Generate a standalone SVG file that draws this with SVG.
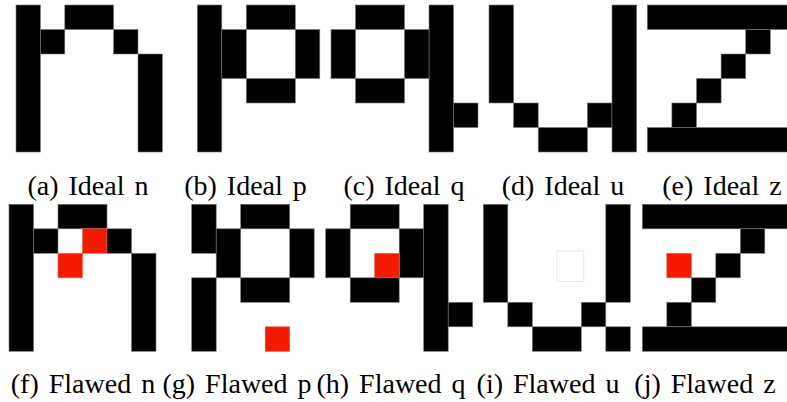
<svg xmlns="http://www.w3.org/2000/svg" width="787" height="402" viewBox="0 0 787 402">
<style>
.k{fill:#000;stroke:#777;stroke-width:0.025}
.r{fill:#f21a00;stroke:#f06040;stroke-width:0.025}
.f{fill:none;stroke:#e8e8e8;stroke-width:0.04}
.lb{font-family:"Liberation Serif","Times New Roman",serif;font-size:28px;word-spacing:3px;fill:#000;text-anchor:middle}
</style>
<rect width="787" height="402" fill="#fff"/>
<g id="ideal-n">
<g transform="translate(16,5) scale(24.4,24.5)">
<rect class="k" x="0" y="0" width="1" height="6"/><rect class="k" x="2" y="0" width="2" height="1"/><rect class="k" x="1" y="1" width="1" height="1"/><rect class="k" x="4" y="1" width="1" height="1"/><rect class="k" x="5" y="2" width="1" height="4"/>
</g>
<text class="lb" x="88" y="195">(a) Ideal n</text>
</g>
<g id="ideal-p">
<g transform="translate(197.3,5) scale(24.5)">
<rect class="k" x="0" y="0" width="1" height="6"/><rect class="k" x="2" y="0" width="2" height="1"/><rect class="k" x="1" y="1" width="1" height="2"/><rect class="k" x="4" y="1" width="1" height="2"/><rect class="k" x="2" y="3" width="2" height="1"/>
</g>
<text class="lb" x="245.5" y="195">(b) Ideal p</text>
</g>
<g id="ideal-q">
<g transform="translate(331,5) scale(24.5)">
<rect class="k" x="1" y="0" width="2" height="1"/><rect class="k" x="4" y="0" width="1" height="6"/><rect class="k" x="0" y="1" width="1" height="2"/><rect class="k" x="3" y="1" width="1" height="2"/><rect class="k" x="1" y="3" width="2" height="1"/><rect class="k" x="5" y="4" width="1" height="1"/>
</g>
<text class="lb" x="404" y="195">(c) Ideal q</text>
</g>
<g id="ideal-u">
<g transform="translate(489,5) scale(24.6,24.5)">
<rect class="k" x="0" y="0" width="1" height="4"/><rect class="k" x="1" y="4" width="1" height="1"/><rect class="k" x="2" y="5" width="2" height="1"/><rect class="k" x="4" y="4" width="1" height="1"/><rect class="k" x="5" y="0" width="1" height="6"/>
</g>
<text class="lb" x="563" y="195">(d) Ideal u</text>
</g>
<g id="ideal-z">
<g transform="translate(647.3,5) scale(24.6,24.5)">
<rect class="k" x="0" y="0" width="6" height="1"/><rect class="k" x="4" y="1" width="1" height="1"/><rect class="k" x="3" y="2" width="1" height="1"/><rect class="k" x="2" y="3" width="1" height="1"/><rect class="k" x="1" y="4" width="1" height="1"/><rect class="k" x="0" y="5" width="6" height="1"/>
</g>
<text class="lb" x="722" y="195">(e) Ideal z</text>
</g>
<g id="flawed-n">
<g transform="translate(9,204.3) scale(24.5)">
<rect class="k" x="0" y="0" width="1" height="6"/><rect class="k" x="2" y="0" width="2" height="1"/><rect class="k" x="1" y="1" width="1" height="1"/><rect class="r" x="3" y="1" width="1" height="1"/><rect class="k" x="4" y="1" width="1" height="1"/><rect class="r" x="2" y="2" width="1" height="1"/><rect class="k" x="5" y="2" width="1" height="4"/>
</g>
<text class="lb" x="83" y="393">(f) Flawed n</text>
</g>
<g id="flawed-p">
<g transform="translate(191.7,204.3) scale(24.5)">
<rect class="k" x="0" y="0" width="1" height="2"/><rect class="k" x="0" y="3" width="1" height="3"/><rect class="k" x="2" y="0" width="2" height="1"/><rect class="k" x="1" y="1" width="1" height="2"/><rect class="k" x="4" y="1" width="1" height="2"/><rect class="k" x="2" y="3" width="2" height="1"/><rect class="r" x="3" y="5" width="1" height="1"/>
</g>
<text class="lb" x="237" y="393">(g) Flawed p</text>
</g>
<g id="flawed-q">
<g transform="translate(325.7,204.3) scale(24.5)">
<rect class="k" x="1" y="0" width="2" height="1"/><rect class="k" x="4" y="0" width="1" height="6"/><rect class="k" x="0" y="1" width="1" height="2"/><rect class="k" x="3" y="1" width="1" height="2"/><rect class="r" x="2" y="2" width="1" height="1"/><rect class="k" x="1" y="3" width="2" height="1"/><rect class="k" x="5" y="4" width="1" height="1"/>
</g>
<text class="lb" x="391" y="393">(h) Flawed q</text>
</g>
<g id="flawed-u">
<g transform="translate(483.3,204.3) scale(24.5)">
<rect class="k" x="0" y="0" width="1" height="4"/><rect class="k" x="1" y="4" width="1" height="1"/><rect class="k" x="2" y="5" width="2" height="1"/><rect class="k" x="4" y="4" width="1" height="1"/><rect class="k" x="5" y="0" width="1" height="4"/><rect class="k" x="5" y="5" width="1" height="1"/><rect class="f" x="3" y="1.9" width="1.1" height="1.25"/>
</g>
<text class="lb" x="548" y="393">(i) Flawed u</text>
</g>
<g id="flawed-z">
<g transform="translate(642.3,204.3) scale(24.5)">
<rect class="k" x="0" y="0" width="6" height="1"/><rect class="k" x="4" y="1" width="1" height="1"/><rect class="k" x="3" y="2" width="1" height="1"/><rect class="r" x="1" y="2" width="1" height="1"/><rect class="k" x="2" y="3" width="1" height="1"/><rect class="k" x="1" y="4" width="1" height="1"/><rect class="k" x="0" y="5" width="6" height="1"/>
</g>
<text class="lb" x="705" y="393">(j) Flawed z</text>
</g>
<g id="connectors"/>
</svg>
